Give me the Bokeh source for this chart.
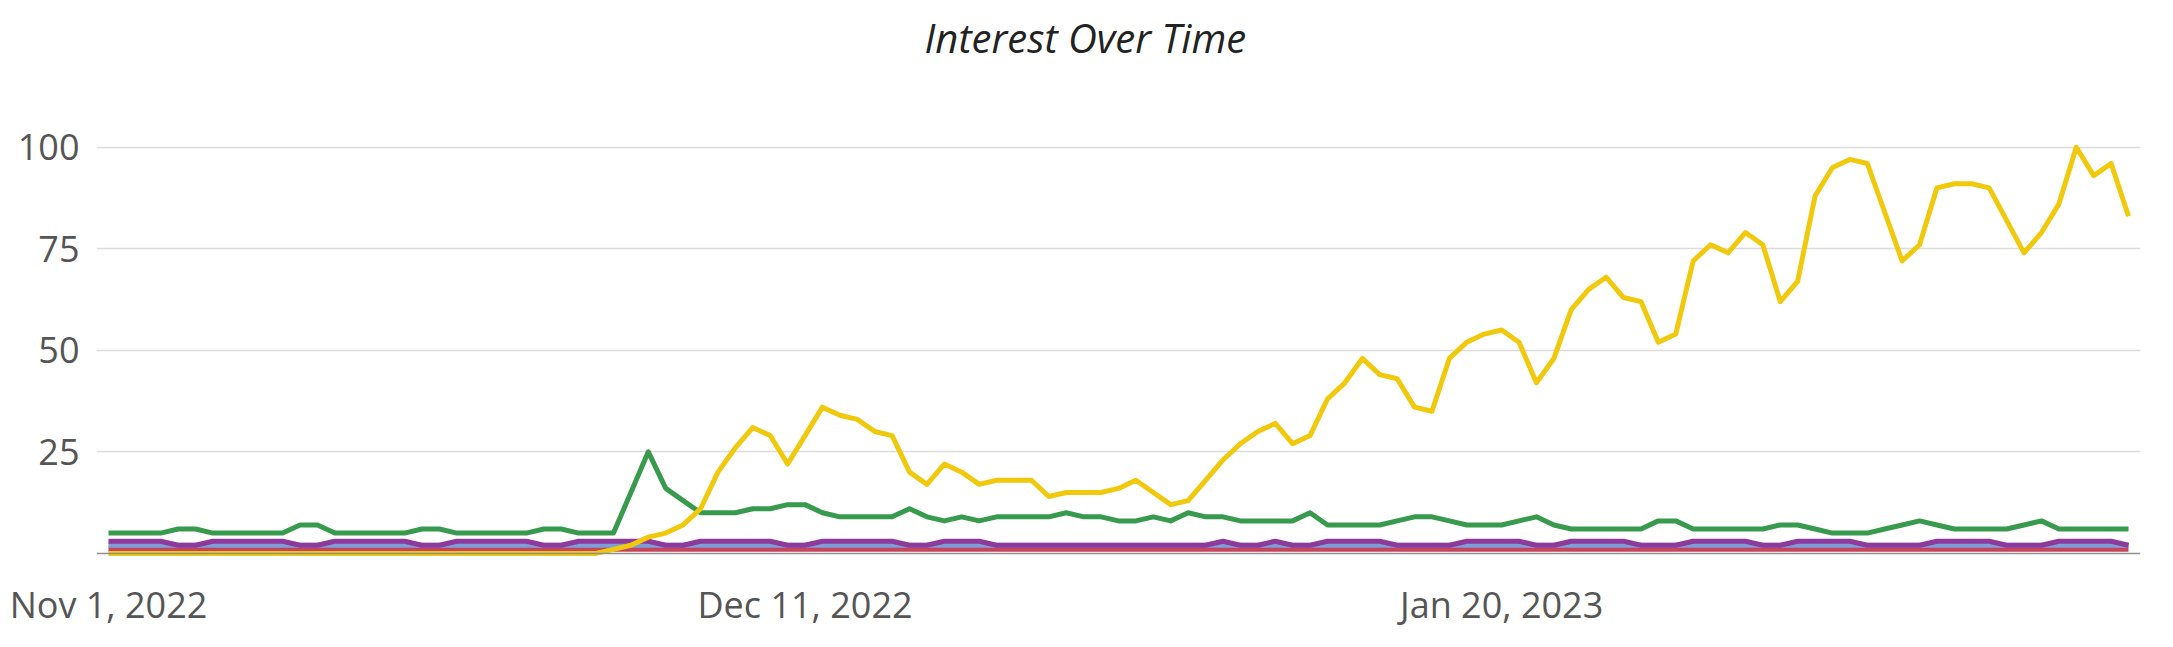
import pandas as pd
from bokeh.plotting import figure
from bokeh.models import FixedTicker, Span, ColumnDataSource, Title
from bokeh.embed import file_html
from bokeh.resources import INLINE

# ---- data (daily, Nov 1 2022 .. Feb 25 2023) ----
YELLOW = [0, 0, 0, 0, 0, 0, 0, 0, 0, 0, 0, 0, 0, 0, 0, 0, 0, 0, 0, 0, 0, 0, 0, 0, 0, 0, 0, 0, 0,
          1, 2, 4, 5, 7, 11, 20, 26, 31, 29, 22, 29, 36, 34, 33, 30, 29, 20, 17, 22, 20, 17,
          18, 18, 18, 14, 15, 15, 15, 16, 18, 15, 12, 13, 18, 23, 27, 30, 32, 27, 29, 38, 42, 48, 44, 43, 36, 35,
          48, 52, 54, 55, 52, 42, 48, 60, 65, 68, 63, 62, 52, 54, 72, 76, 74, 79, 76, 62, 67, 88, 95,
          97, 96, 84, 72, 76, 90, 91, 91, 90, 82, 74, 79, 86, 100, 93, 96, 83]
GREEN = [5, 5, 5, 5, 6, 6, 5, 5, 5, 5, 5, 7, 7, 5, 5, 5, 5, 5, 6, 6, 5, 5, 5, 5, 5, 6, 6, 5, 5,
         5, 15, 25, 16, 13, 10, 10, 10, 11, 11, 12, 12, 10, 9, 9, 9, 9, 11, 9, 8, 9, 8,
         9, 9, 9, 9, 10, 9, 9, 8, 8, 9, 8, 10, 9, 9, 8, 8, 8, 8, 10, 7, 7, 7, 7, 8, 9, 9,
         8, 7, 7, 7, 8, 9, 7, 6, 6, 6, 6, 6, 8, 8, 6, 6, 6, 6, 6, 7, 7, 6, 5,
         5, 5, 6, 7, 8, 7, 6, 6, 6, 6, 7, 8, 6, 6, 6, 6, 6]
PURPLE = [3, 3, 3, 3, 2, 2, 3, 3, 3, 3, 3, 2, 2, 3, 3, 3, 3, 3, 2, 2, 3, 3, 3, 3, 3, 2, 2, 3, 3,
          3, 3, 3, 2, 2, 3, 3, 3, 3, 3, 2, 2, 3, 3, 3, 3, 3, 2, 2, 3, 3, 3,
          2, 2, 2, 2, 2, 2, 2, 2, 2, 2, 2, 2, 2, 3, 2, 2, 3, 2, 2, 3, 3, 3, 3, 2, 2, 2,
          2, 3, 3, 3, 3, 2, 2, 3, 3, 3, 3, 2, 2, 2, 3, 3, 3, 3, 2, 2, 3, 3, 3,
          3, 2, 2, 2, 2, 3, 3, 3, 3, 2, 2, 2, 3, 3, 3, 3, 2]
BLUE = [2, 2, 2, 2, 2, 2, 2, 2, 2, 2, 2, 2, 2, 2, 2, 2, 2, 2, 2, 2, 2, 2, 2, 2, 2, 2, 2, 2, 2,
        2, 2, 2, 2, 2, 2, 2, 2, 2, 2, 2, 2, 2, 2, 2, 2, 2, 2, 2, 2, 2, 2,
        2, 2, 2, 2, 2, 2, 2, 2, 2, 2, 2, 2, 2, 2, 2, 2, 2, 2, 2, 2, 2, 2, 2, 2, 2, 2,
        2, 2, 2, 2, 2, 2, 2, 2, 2, 2, 2, 2, 2, 2, 2, 2, 2, 2, 2, 2, 2, 2, 2,
        2, 2, 2, 2, 2, 2, 2, 2, 2, 2, 2, 2, 2, 2, 2, 2, 2]
RED = [1, 1, 1, 1, 1, 1, 1, 1, 1, 1, 1, 1, 1, 1, 1, 1, 1, 1, 1, 1, 1, 1, 1, 1, 1, 1, 1, 1, 1,
       1, 1, 1, 1, 1, 1, 1, 1, 1, 1, 1, 1, 1, 1, 1, 1, 1, 1, 1, 1, 1, 1,
       1, 1, 1, 1, 1, 1, 1, 1, 1, 1, 1, 1, 1, 1, 1, 1, 1, 1, 1, 1, 1, 1, 1, 1, 1, 1,
       1, 1, 1, 1, 1, 1, 1, 1, 1, 1, 1, 1, 1, 1, 1, 1, 1, 1, 1, 1, 1, 1, 1,
       1, 1, 1, 1, 1, 1, 1, 1, 1, 1, 1, 1, 1, 1, 1, 1, 1]

TITLE = "Interest Over Time"
TICK_DATES = ["2022-11-01", "2022-12-11", "2023-01-20"]
TICK_LABELS = ["Nov 1, 2022", "Dec 11, 2022", "Jan 20, 2023"]
Y_TICKS = [25, 50, 75, 100]

dates = pd.date_range("2022-11-01", periods=len(YELLOW), freq="D")
src = ColumnDataSource(dict(date=dates, yellow=YELLOW, green=GREEN, purple=PURPLE,
                            blue=BLUE, red=RED))

FONT = "Open Sans"
pad = pd.Timedelta(hours=16.5)
x0 = (dates[0] - pad).value / 1e6
x1 = (dates[-1] + pad).value / 1e6

p = figure(width=2157, height=631, x_axis_type="datetime", title=None,
           x_range=(x0, x1), y_range=(-2, 112),
           output_backend="svg", toolbar_location=None,
           min_border_left=96, min_border_right=17,
           min_border_top=98, min_border_bottom=70)
p.outline_line_color = None
p.background_fill_color = "white"
p.border_fill_color = "white"

# invisible spacer nearest the frame, then the real title above it
p.add_layout(Title(text=" ", text_font_size="1px", text_color="white", standoff=31), "above")
p.add_layout(Title(text=TITLE, align="left", offset=828, standoff=0,
                   text_font=FONT, text_font_style="italic",
                   text_font_size="40px", text_color="#222222"), "above")

tick_ms = [int(pd.Timestamp(d).value // 10**6) for d in TICK_DATES]
p.xaxis.ticker = FixedTicker(ticks=tick_ms)
p.xaxis.major_label_overrides = {t: l for t, l in zip(tick_ms, TICK_LABELS)}
p.xaxis.axis_line_color = None
p.xaxis.major_tick_line_color = None
p.xaxis.major_tick_out = 0
p.xaxis.major_tick_in = 0
p.xaxis.minor_tick_line_color = None
p.xaxis.major_label_text_font = FONT
p.xaxis.major_label_text_font_size = "36px"
p.xaxis.major_label_text_color = "#555555"
p.xaxis.major_label_standoff = 18
p.xgrid.visible = False

p.yaxis.ticker = FixedTicker(ticks=Y_TICKS)
p.yaxis.axis_line_color = None
p.yaxis.major_tick_line_color = None
p.yaxis.major_tick_out = 0
p.yaxis.major_tick_in = 0
p.yaxis.minor_tick_line_color = None
p.yaxis.major_label_text_font = FONT
p.yaxis.major_label_text_font_size = "36px"
p.yaxis.major_label_text_color = "#555555"
p.yaxis.major_label_standoff = 17
p.ygrid.ticker = FixedTicker(ticks=Y_TICKS)
p.ygrid.grid_line_color = "#dcdcdc"
p.ygrid.grid_line_width = 1.5

p.add_layout(Span(location=0, dimension="width", line_color="#8f8f8f", line_width=1.5))

series = [("red", "#C4455C"), ("blue", "#7E9ED8"), ("purple", "#8D3A9C"),
          ("green", "#379A4C"), ("yellow", "#F0C80C")]
for name, color in series:
    p.line("date", name, source=src, line_color=color, line_width=5, line_join="round")

open("out.html", "w").write(file_html(p, INLINE))
